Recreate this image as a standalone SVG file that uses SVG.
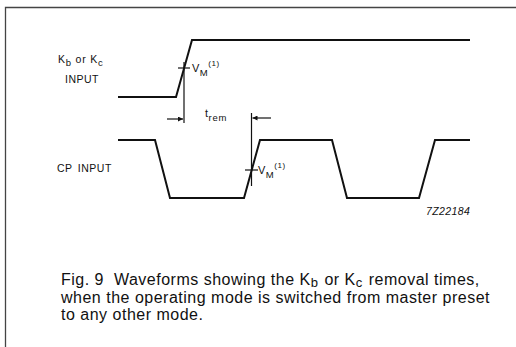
<svg xmlns="http://www.w3.org/2000/svg" width="516" height="347" viewBox="0 0 516 347">
<defs>
<marker id="ah" viewBox="0 0 10 10" refX="10" refY="5" markerWidth="7" markerHeight="5" orient="auto" markerUnits="userSpaceOnUse">
<path d="M0,0 L10,5 L0,10 Z" fill="#111"/>
</marker>
<style>
.wave{fill:none;stroke:#111;stroke-width:2;stroke-linejoin:miter}
.thin{fill:none;stroke:#111;stroke-width:1.2}
.lbl{font-family:"Liberation Sans",Arial,sans-serif;font-size:10.5px;fill:#111;letter-spacing:0.5px}
.sub{font-size:9.5px}
.sup{font-size:8px}
.cap{font-family:"Liberation Sans",Arial,sans-serif;font-size:16px;fill:#111;letter-spacing:0.5px}
.frame{fill:none;stroke:#444;stroke-width:1.3}
</style>
</defs>
<rect width="516" height="347" fill="#fff"/>
<path class="frame" d="M516,7.5 H5.5 V347"/>

<g id="kb-label">
<text class="lbl" x="58" y="63" style="letter-spacing:0.8px">K<tspan class="sub" dy="3">b</tspan><tspan dy="-3"> or K</tspan><tspan class="sub" dy="3">c</tspan></text>
<text class="lbl" x="65" y="83">INPUT</text>
</g>
<g id="cp-label">
<text class="lbl" x="57" y="172" style="word-spacing:2px">CP INPUT</text>
</g>

<g id="kb-wave">
<polyline class="wave" points="118,97 176,97 192,40 470,40"/>
</g>
<g id="cp-wave">
<polyline class="wave" points="118,140 155,140 170,198 244,198 260,140 332,140 347,198 419,198 435,140 470,140"/>
</g>

<g id="connectors">
<line class="thin" x1="184" y1="62" x2="184" y2="123"/>
<line class="thin" x1="178" y1="68" x2="190" y2="68"/>
<line class="thin" x1="251.5" y1="113" x2="251.5" y2="186"/>
<line class="thin" x1="245" y1="170" x2="258" y2="170"/>
<line class="thin" x1="167" y1="119" x2="183" y2="119" marker-end="url(#ah)"/>
<line class="thin" x1="271" y1="118" x2="252.5" y2="118" marker-end="url(#ah)"/>
</g>

<g id="vm1">
<text class="lbl" x="192" y="72" style="font-size:11px">V<tspan class="sub" dy="4">M</tspan><tspan class="sup" dy="-10">(1)</tspan></text>
</g>
<g id="vm2">
<text class="lbl" x="258" y="174" style="font-size:11px">V<tspan class="sub" dy="4">M</tspan><tspan class="sup" dy="-10">(1)</tspan></text>
</g>
<g id="trem">
<text class="lbl" x="205" y="117" style="font-size:11px">t<tspan class="sub" dy="4" style="letter-spacing:0.8px">rem</tspan></text>
</g>

<text class="lbl" x="426" y="215" style="font-style:italic;letter-spacing:0.4px">7Z22184</text>

<g id="caption">
<text class="cap" x="61" y="285">Fig. 9<tspan dx="5"> Waveforms showing the K</tspan><tspan style="font-size:13px" dy="2">b</tspan><tspan dy="-2" dx="1"> or K</tspan><tspan style="font-size:13px" dy="2">c</tspan><tspan dy="-2" dx="1"> removal times,</tspan></text>
<text class="cap" x="61" y="303">when the operating mode is switched from master preset</text>
<text class="cap" x="61" y="320">to any other mode.</text>
</g>
</svg>
